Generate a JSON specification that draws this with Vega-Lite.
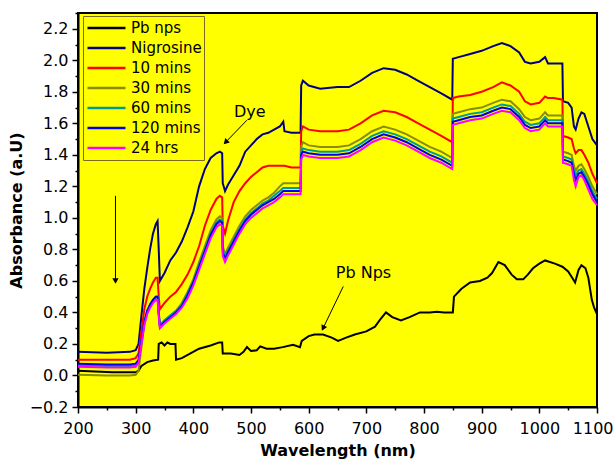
{
"$schema":"https://vega.github.io/schema/vega-lite/v6.json",
"width":519,"height":394,"autosize":"none",
"padding":{"left":78,"top":13,"right":18,"bottom":53},
"background":"white",
"config":{"view":{"fill":"#ffff00","stroke":"black","strokeWidth":2},
"font":"DejaVu Sans",
"axis":{"domainColor":"black","domainWidth":2,"tickColor":"black","tickWidth":1.5,"labelFont":"DejaVu Sans","labelFontSize":16,"labelColor":"black","titleFont":"DejaVu Sans","titleFontSize":16,"titleFontWeight":"bold","titleColor":"black","grid":false}},
"resolve":{"axis":{"x":"independent","y":"independent"}},
"datasets":{
"spectra":[
{"s":"Pb nps","w":200,"a":0.03},{"s":"Pb nps","w":230,"a":0.025},{"s":"Pb nps","w":260,"a":0.02},{"s":"Pb nps","w":300,"a":0.02},{"s":"Pb nps","w":305,"a":0.03},{"s":"Pb nps","w":310,"a":0.06},{"s":"Pb nps","w":320,"a":0.085},{"s":"Pb nps","w":330,"a":0.095},{"s":"Pb nps","w":339,"a":0.1},{"s":"Pb nps","w":340,"a":0.2},{"s":"Pb nps","w":345,"a":0.21},{"s":"Pb nps","w":350,"a":0.19},{"s":"Pb nps","w":355,"a":0.21},{"s":"Pb nps","w":360,"a":0.2},{"s":"Pb nps","w":365,"a":0.2},{"s":"Pb nps","w":369,"a":0.2},{"s":"Pb nps","w":370,"a":0.1},{"s":"Pb nps","w":380,"a":0.11},{"s":"Pb nps","w":395,"a":0.14},{"s":"Pb nps","w":410,"a":0.17},{"s":"Pb nps","w":430,"a":0.19},{"s":"Pb nps","w":445,"a":0.21},{"s":"Pb nps","w":450,"a":0.21},{"s":"Pb nps","w":451,"a":0.14},{"s":"Pb nps","w":465,"a":0.14},{"s":"Pb nps","w":480,"a":0.13},{"s":"Pb nps","w":487,"a":0.15},{"s":"Pb nps","w":493,"a":0.18},{"s":"Pb nps","w":500,"a":0.155},{"s":"Pb nps","w":510,"a":0.16},{"s":"Pb nps","w":516,"a":0.185},{"s":"Pb nps","w":527,"a":0.17},{"s":"Pb nps","w":540,"a":0.17},{"s":"Pb nps","w":555,"a":0.18},{"s":"Pb nps","w":573,"a":0.195},{"s":"Pb nps","w":585,"a":0.18},{"s":"Pb nps","w":588,"a":0.22},{"s":"Pb nps","w":600,"a":0.25},{"s":"Pb nps","w":610,"a":0.26},{"s":"Pb nps","w":625,"a":0.26},{"s":"Pb nps","w":640,"a":0.24},{"s":"Pb nps","w":651,"a":0.22},{"s":"Pb nps","w":665,"a":0.24},{"s":"Pb nps","w":680,"a":0.26},{"s":"Pb nps","w":700,"a":0.28},{"s":"Pb nps","w":715,"a":0.31},{"s":"Pb nps","w":725,"a":0.36},{"s":"Pb nps","w":734,"a":0.4},{"s":"Pb nps","w":745,"a":0.37},{"s":"Pb nps","w":760,"a":0.35},{"s":"Pb nps","w":775,"a":0.37},{"s":"Pb nps","w":793,"a":0.4},{"s":"Pb nps","w":810,"a":0.4},{"s":"Pb nps","w":822,"a":0.405},{"s":"Pb nps","w":835,"a":0.4},{"s":"Pb nps","w":850,"a":0.4},{"s":"Pb nps","w":852,"a":0.5},{"s":"Pb nps","w":865,"a":0.55},{"s":"Pb nps","w":880,"a":0.59},{"s":"Pb nps","w":897,"a":0.6},{"s":"Pb nps","w":910,"a":0.62},{"s":"Pb nps","w":918,"a":0.65},{"s":"Pb nps","w":929,"a":0.72},{"s":"Pb nps","w":940,"a":0.7},{"s":"Pb nps","w":952,"a":0.64},{"s":"Pb nps","w":961,"a":0.61},{"s":"Pb nps","w":972,"a":0.61},{"s":"Pb nps","w":980,"a":0.64},{"s":"Pb nps","w":989,"a":0.68},{"s":"Pb nps","w":1000,"a":0.71},{"s":"Pb nps","w":1010,"a":0.73},{"s":"Pb nps","w":1027,"a":0.71},{"s":"Pb nps","w":1040,"a":0.69},{"s":"Pb nps","w":1050,"a":0.66},{"s":"Pb nps","w":1057,"a":0.62},{"s":"Pb nps","w":1062,"a":0.59},{"s":"Pb nps","w":1068,"a":0.67},{"s":"Pb nps","w":1073,"a":0.7},{"s":"Pb nps","w":1080,"a":0.68},{"s":"Pb nps","w":1085,"a":0.62},{"s":"Pb nps","w":1091,"a":0.48},{"s":"Pb nps","w":1095,"a":0.43},{"s":"Pb nps","w":1100,"a":0.39},

{"s":"Nigrosine","w":200,"a":0.15},{"s":"Nigrosine","w":250,"a":0.145},{"s":"Nigrosine","w":290,"a":0.15},{"s":"Nigrosine","w":300,"a":0.16},{"s":"Nigrosine","w":305,"a":0.2},{"s":"Nigrosine","w":310,"a":0.38},{"s":"Nigrosine","w":315,"a":0.55},{"s":"Nigrosine","w":320,"a":0.68},{"s":"Nigrosine","w":325,"a":0.8},{"s":"Nigrosine","w":330,"a":0.9},{"s":"Nigrosine","w":335,"a":0.96},{"s":"Nigrosine","w":338,"a":0.98},{"s":"Nigrosine","w":340,"a":0.8},{"s":"Nigrosine","w":342,"a":0.6},{"s":"Nigrosine","w":350,"a":0.65},{"s":"Nigrosine","w":360,"a":0.73},{"s":"Nigrosine","w":370,"a":0.78},{"s":"Nigrosine","w":380,"a":0.85},{"s":"Nigrosine","w":390,"a":0.94},{"s":"Nigrosine","w":400,"a":1.04},{"s":"Nigrosine","w":410,"a":1.2},{"s":"Nigrosine","w":420,"a":1.31},{"s":"Nigrosine","w":430,"a":1.38},{"s":"Nigrosine","w":440,"a":1.41},{"s":"Nigrosine","w":446,"a":1.42},{"s":"Nigrosine","w":450,"a":1.41},{"s":"Nigrosine","w":451,"a":1.22},{"s":"Nigrosine","w":455,"a":1.17},{"s":"Nigrosine","w":460,"a":1.21},{"s":"Nigrosine","w":470,"a":1.27},{"s":"Nigrosine","w":480,"a":1.33},{"s":"Nigrosine","w":490,"a":1.42},{"s":"Nigrosine","w":500,"a":1.46},{"s":"Nigrosine","w":510,"a":1.5},{"s":"Nigrosine","w":520,"a":1.53},{"s":"Nigrosine","w":530,"a":1.54},{"s":"Nigrosine","w":540,"a":1.56},{"s":"Nigrosine","w":550,"a":1.58},{"s":"Nigrosine","w":556,"a":1.61},{"s":"Nigrosine","w":558,"a":1.55},{"s":"Nigrosine","w":570,"a":1.54},{"s":"Nigrosine","w":586,"a":1.54},{"s":"Nigrosine","w":587,"a":1.84},{"s":"Nigrosine","w":590,"a":1.87},{"s":"Nigrosine","w":600,"a":1.84},{"s":"Nigrosine","w":620,"a":1.82},{"s":"Nigrosine","w":650,"a":1.83},{"s":"Nigrosine","w":670,"a":1.83},{"s":"Nigrosine","w":690,"a":1.87},{"s":"Nigrosine","w":710,"a":1.92},{"s":"Nigrosine","w":730,"a":1.95},{"s":"Nigrosine","w":750,"a":1.94},{"s":"Nigrosine","w":770,"a":1.91},{"s":"Nigrosine","w":790,"a":1.87},{"s":"Nigrosine","w":810,"a":1.83},{"s":"Nigrosine","w":830,"a":1.79},{"s":"Nigrosine","w":849,"a":1.75},{"s":"Nigrosine","w":850,"a":2.01},{"s":"Nigrosine","w":860,"a":2.02},{"s":"Nigrosine","w":880,"a":2.04},{"s":"Nigrosine","w":900,"a":2.06},{"s":"Nigrosine","w":920,"a":2.09},{"s":"Nigrosine","w":935,"a":2.11},{"s":"Nigrosine","w":950,"a":2.09},{"s":"Nigrosine","w":965,"a":2.05},{"s":"Nigrosine","w":975,"a":1.99},{"s":"Nigrosine","w":985,"a":1.98},{"s":"Nigrosine","w":1000,"a":1.99},{"s":"Nigrosine","w":1010,"a":2.02},{"s":"Nigrosine","w":1015,"a":1.98},{"s":"Nigrosine","w":1025,"a":1.98},{"s":"Nigrosine","w":1040,"a":1.98},{"s":"Nigrosine","w":1041,"a":1.74},{"s":"Nigrosine","w":1050,"a":1.73},{"s":"Nigrosine","w":1056,"a":1.7},{"s":"Nigrosine","w":1060,"a":1.58},{"s":"Nigrosine","w":1063,"a":1.56},{"s":"Nigrosine","w":1068,"a":1.63},{"s":"Nigrosine","w":1073,"a":1.67},{"s":"Nigrosine","w":1078,"a":1.66},{"s":"Nigrosine","w":1085,"a":1.58},{"s":"Nigrosine","w":1092,"a":1.5},{"s":"Nigrosine","w":1100,"a":1.46},

{"s":"10 mins","w":200,"a":0.1},{"s":"10 mins","w":250,"a":0.1},{"s":"10 mins","w":290,"a":0.1},{"s":"10 mins","w":300,"a":0.11},{"s":"10 mins","w":305,"a":0.14},{"s":"10 mins","w":310,"a":0.28},{"s":"10 mins","w":315,"a":0.42},{"s":"10 mins","w":320,"a":0.5},{"s":"10 mins","w":325,"a":0.55},{"s":"10 mins","w":330,"a":0.59},{"s":"10 mins","w":335,"a":0.62},{"s":"10 mins","w":338,"a":0.62},{"s":"10 mins","w":340,"a":0.5},{"s":"10 mins","w":342,"a":0.42},{"s":"10 mins","w":350,"a":0.46},{"s":"10 mins","w":360,"a":0.5},{"s":"10 mins","w":370,"a":0.53},{"s":"10 mins","w":380,"a":0.58},{"s":"10 mins","w":390,"a":0.64},{"s":"10 mins","w":400,"a":0.72},{"s":"10 mins","w":410,"a":0.82},{"s":"10 mins","w":420,"a":0.95},{"s":"10 mins","w":430,"a":1.05},{"s":"10 mins","w":440,"a":1.12},{"s":"10 mins","w":446,"a":1.14},{"s":"10 mins","w":450,"a":1.13},{"s":"10 mins","w":451,"a":0.95},{"s":"10 mins","w":455,"a":0.9},{"s":"10 mins","w":460,"a":0.98},{"s":"10 mins","w":470,"a":1.1},{"s":"10 mins","w":480,"a":1.17},{"s":"10 mins","w":490,"a":1.22},{"s":"10 mins","w":500,"a":1.26},{"s":"10 mins","w":510,"a":1.29},{"s":"10 mins","w":520,"a":1.32},{"s":"10 mins","w":530,"a":1.33},{"s":"10 mins","w":540,"a":1.33},{"s":"10 mins","w":550,"a":1.33},{"s":"10 mins","w":556,"a":1.33},{"s":"10 mins","w":558,"a":1.33},{"s":"10 mins","w":570,"a":1.32},{"s":"10 mins","w":586,"a":1.32},{"s":"10 mins","w":587,"a":1.55},{"s":"10 mins","w":590,"a":1.58},{"s":"10 mins","w":600,"a":1.56},{"s":"10 mins","w":620,"a":1.55},{"s":"10 mins","w":650,"a":1.55},{"s":"10 mins","w":670,"a":1.56},{"s":"10 mins","w":690,"a":1.6},{"s":"10 mins","w":710,"a":1.65},{"s":"10 mins","w":730,"a":1.68},{"s":"10 mins","w":750,"a":1.67},{"s":"10 mins","w":770,"a":1.64},{"s":"10 mins","w":790,"a":1.6},{"s":"10 mins","w":810,"a":1.56},{"s":"10 mins","w":830,"a":1.52},{"s":"10 mins","w":849,"a":1.48},{"s":"10 mins","w":850,"a":1.76},{"s":"10 mins","w":860,"a":1.77},{"s":"10 mins","w":880,"a":1.78},{"s":"10 mins","w":900,"a":1.8},{"s":"10 mins","w":920,"a":1.83},{"s":"10 mins","w":935,"a":1.86},{"s":"10 mins","w":950,"a":1.84},{"s":"10 mins","w":965,"a":1.8},{"s":"10 mins","w":975,"a":1.74},{"s":"10 mins","w":985,"a":1.72},{"s":"10 mins","w":1000,"a":1.73},{"s":"10 mins","w":1010,"a":1.77},{"s":"10 mins","w":1015,"a":1.76},{"s":"10 mins","w":1025,"a":1.76},{"s":"10 mins","w":1040,"a":1.75},{"s":"10 mins","w":1041,"a":1.52},{"s":"10 mins","w":1050,"a":1.51},{"s":"10 mins","w":1056,"a":1.5},{"s":"10 mins","w":1060,"a":1.44},{"s":"10 mins","w":1063,"a":1.41},{"s":"10 mins","w":1068,"a":1.43},{"s":"10 mins","w":1073,"a":1.43},{"s":"10 mins","w":1078,"a":1.4},{"s":"10 mins","w":1085,"a":1.35},{"s":"10 mins","w":1092,"a":1.28},{"s":"10 mins","w":1100,"a":1.22},

{"s":"30 mins","w":200,"a":0.005},{"s":"30 mins","w":250,"a":0.0},{"s":"30 mins","w":290,"a":0.0},{"s":"30 mins","w":300,"a":0.005},{"s":"30 mins","w":305,"a":0.03},{"s":"30 mins","w":310,"a":0.18},{"s":"30 mins","w":315,"a":0.32},{"s":"30 mins","w":320,"a":0.4},{"s":"30 mins","w":325,"a":0.44},{"s":"30 mins","w":330,"a":0.47},{"s":"30 mins","w":335,"a":0.5},{"s":"30 mins","w":338,"a":0.5},{"s":"30 mins","w":340,"a":0.4},{"s":"30 mins","w":342,"a":0.31},{"s":"30 mins","w":350,"a":0.35},{"s":"30 mins","w":360,"a":0.38},{"s":"30 mins","w":370,"a":0.41},{"s":"30 mins","w":380,"a":0.46},{"s":"30 mins","w":390,"a":0.53},{"s":"30 mins","w":400,"a":0.61},{"s":"30 mins","w":410,"a":0.72},{"s":"30 mins","w":420,"a":0.82},{"s":"30 mins","w":430,"a":0.92},{"s":"30 mins","w":440,"a":0.99},{"s":"30 mins","w":446,"a":1.01},{"s":"30 mins","w":450,"a":1.0},{"s":"30 mins","w":451,"a":0.82},{"s":"30 mins","w":455,"a":0.77},{"s":"30 mins","w":460,"a":0.81},{"s":"30 mins","w":470,"a":0.88},{"s":"30 mins","w":480,"a":0.95},{"s":"30 mins","w":490,"a":1.01},{"s":"30 mins","w":500,"a":1.05},{"s":"30 mins","w":510,"a":1.08},{"s":"30 mins","w":520,"a":1.11},{"s":"30 mins","w":530,"a":1.13},{"s":"30 mins","w":540,"a":1.16},{"s":"30 mins","w":550,"a":1.2},{"s":"30 mins","w":556,"a":1.22},{"s":"30 mins","w":558,"a":1.22},{"s":"30 mins","w":570,"a":1.22},{"s":"30 mins","w":586,"a":1.22},{"s":"30 mins","w":587,"a":1.45},{"s":"30 mins","w":590,"a":1.48},{"s":"30 mins","w":600,"a":1.46},{"s":"30 mins","w":620,"a":1.45},{"s":"30 mins","w":650,"a":1.45},{"s":"30 mins","w":670,"a":1.46},{"s":"30 mins","w":690,"a":1.5},{"s":"30 mins","w":710,"a":1.55},{"s":"30 mins","w":730,"a":1.58},{"s":"30 mins","w":750,"a":1.56},{"s":"30 mins","w":770,"a":1.53},{"s":"30 mins","w":790,"a":1.49},{"s":"30 mins","w":810,"a":1.45},{"s":"30 mins","w":830,"a":1.42},{"s":"30 mins","w":849,"a":1.38},{"s":"30 mins","w":850,"a":1.66},{"s":"30 mins","w":860,"a":1.67},{"s":"30 mins","w":880,"a":1.69},{"s":"30 mins","w":900,"a":1.7},{"s":"30 mins","w":920,"a":1.73},{"s":"30 mins","w":935,"a":1.75},{"s":"30 mins","w":950,"a":1.74},{"s":"30 mins","w":965,"a":1.69},{"s":"30 mins","w":975,"a":1.64},{"s":"30 mins","w":985,"a":1.62},{"s":"30 mins","w":1000,"a":1.63},{"s":"30 mins","w":1010,"a":1.67},{"s":"30 mins","w":1015,"a":1.65},{"s":"30 mins","w":1025,"a":1.65},{"s":"30 mins","w":1040,"a":1.65},{"s":"30 mins","w":1041,"a":1.42},{"s":"30 mins","w":1050,"a":1.41},{"s":"30 mins","w":1056,"a":1.4},{"s":"30 mins","w":1060,"a":1.33},{"s":"30 mins","w":1063,"a":1.3},{"s":"30 mins","w":1068,"a":1.33},{"s":"30 mins","w":1073,"a":1.34},{"s":"30 mins","w":1078,"a":1.31},{"s":"30 mins","w":1085,"a":1.26},{"s":"30 mins","w":1092,"a":1.2},{"s":"30 mins","w":1100,"a":1.15},

{"s":"60 mins","w":200,"a":0.065},{"s":"60 mins","w":250,"a":0.06},{"s":"60 mins","w":290,"a":0.06},{"s":"60 mins","w":300,"a":0.065},{"s":"60 mins","w":305,"a":0.09},{"s":"60 mins","w":310,"a":0.22},{"s":"60 mins","w":315,"a":0.34},{"s":"60 mins","w":320,"a":0.41},{"s":"60 mins","w":325,"a":0.45},{"s":"60 mins","w":330,"a":0.48},{"s":"60 mins","w":335,"a":0.5},{"s":"60 mins","w":338,"a":0.5},{"s":"60 mins","w":340,"a":0.4},{"s":"60 mins","w":342,"a":0.32},{"s":"60 mins","w":350,"a":0.35},{"s":"60 mins","w":360,"a":0.38},{"s":"60 mins","w":370,"a":0.41},{"s":"60 mins","w":380,"a":0.45},{"s":"60 mins","w":390,"a":0.52},{"s":"60 mins","w":400,"a":0.6},{"s":"60 mins","w":410,"a":0.7},{"s":"60 mins","w":420,"a":0.8},{"s":"60 mins","w":430,"a":0.9},{"s":"60 mins","w":440,"a":0.97},{"s":"60 mins","w":446,"a":0.99},{"s":"60 mins","w":450,"a":0.98},{"s":"60 mins","w":451,"a":0.8},{"s":"60 mins","w":455,"a":0.75},{"s":"60 mins","w":460,"a":0.79},{"s":"60 mins","w":470,"a":0.86},{"s":"60 mins","w":480,"a":0.93},{"s":"60 mins","w":490,"a":0.99},{"s":"60 mins","w":500,"a":1.03},{"s":"60 mins","w":510,"a":1.06},{"s":"60 mins","w":520,"a":1.09},{"s":"60 mins","w":530,"a":1.11},{"s":"60 mins","w":540,"a":1.14},{"s":"60 mins","w":550,"a":1.17},{"s":"60 mins","w":556,"a":1.19},{"s":"60 mins","w":558,"a":1.19},{"s":"60 mins","w":570,"a":1.19},{"s":"60 mins","w":586,"a":1.19},{"s":"60 mins","w":587,"a":1.42},{"s":"60 mins","w":590,"a":1.44},{"s":"60 mins","w":600,"a":1.43},{"s":"60 mins","w":620,"a":1.42},{"s":"60 mins","w":650,"a":1.42},{"s":"60 mins","w":670,"a":1.43},{"s":"60 mins","w":690,"a":1.47},{"s":"60 mins","w":710,"a":1.52},{"s":"60 mins","w":730,"a":1.55},{"s":"60 mins","w":750,"a":1.53},{"s":"60 mins","w":770,"a":1.5},{"s":"60 mins","w":790,"a":1.46},{"s":"60 mins","w":810,"a":1.42},{"s":"60 mins","w":830,"a":1.39},{"s":"60 mins","w":849,"a":1.35},{"s":"60 mins","w":850,"a":1.63},{"s":"60 mins","w":860,"a":1.64},{"s":"60 mins","w":880,"a":1.66},{"s":"60 mins","w":900,"a":1.67},{"s":"60 mins","w":920,"a":1.7},{"s":"60 mins","w":935,"a":1.72},{"s":"60 mins","w":950,"a":1.71},{"s":"60 mins","w":965,"a":1.66},{"s":"60 mins","w":975,"a":1.61},{"s":"60 mins","w":985,"a":1.59},{"s":"60 mins","w":1000,"a":1.6},{"s":"60 mins","w":1010,"a":1.64},{"s":"60 mins","w":1015,"a":1.62},{"s":"60 mins","w":1025,"a":1.62},{"s":"60 mins","w":1040,"a":1.62},{"s":"60 mins","w":1041,"a":1.39},{"s":"60 mins","w":1050,"a":1.38},{"s":"60 mins","w":1056,"a":1.37},{"s":"60 mins","w":1060,"a":1.3},{"s":"60 mins","w":1063,"a":1.27},{"s":"60 mins","w":1068,"a":1.3},{"s":"60 mins","w":1073,"a":1.31},{"s":"60 mins","w":1078,"a":1.28},{"s":"60 mins","w":1085,"a":1.23},{"s":"60 mins","w":1092,"a":1.17},{"s":"60 mins","w":1100,"a":1.12},

{"s":"120 mins","w":200,"a":0.075},{"s":"120 mins","w":250,"a":0.07},{"s":"120 mins","w":290,"a":0.07},{"s":"120 mins","w":300,"a":0.075},{"s":"120 mins","w":305,"a":0.1},{"s":"120 mins","w":310,"a":0.22},{"s":"120 mins","w":315,"a":0.34},{"s":"120 mins","w":320,"a":0.41},{"s":"120 mins","w":325,"a":0.45},{"s":"120 mins","w":330,"a":0.48},{"s":"120 mins","w":335,"a":0.5},{"s":"120 mins","w":338,"a":0.5},{"s":"120 mins","w":340,"a":0.39},{"s":"120 mins","w":342,"a":0.31},{"s":"120 mins","w":350,"a":0.34},{"s":"120 mins","w":360,"a":0.37},{"s":"120 mins","w":370,"a":0.4},{"s":"120 mins","w":380,"a":0.44},{"s":"120 mins","w":390,"a":0.51},{"s":"120 mins","w":400,"a":0.59},{"s":"120 mins","w":410,"a":0.69},{"s":"120 mins","w":420,"a":0.79},{"s":"120 mins","w":430,"a":0.89},{"s":"120 mins","w":440,"a":0.96},{"s":"120 mins","w":446,"a":0.98},{"s":"120 mins","w":450,"a":0.97},{"s":"120 mins","w":451,"a":0.78},{"s":"120 mins","w":455,"a":0.74},{"s":"120 mins","w":460,"a":0.78},{"s":"120 mins","w":470,"a":0.85},{"s":"120 mins","w":480,"a":0.92},{"s":"120 mins","w":490,"a":0.98},{"s":"120 mins","w":500,"a":1.02},{"s":"120 mins","w":510,"a":1.05},{"s":"120 mins","w":520,"a":1.08},{"s":"120 mins","w":530,"a":1.1},{"s":"120 mins","w":540,"a":1.12},{"s":"120 mins","w":550,"a":1.15},{"s":"120 mins","w":556,"a":1.17},{"s":"120 mins","w":558,"a":1.17},{"s":"120 mins","w":570,"a":1.17},{"s":"120 mins","w":586,"a":1.17},{"s":"120 mins","w":587,"a":1.4},{"s":"120 mins","w":590,"a":1.42},{"s":"120 mins","w":600,"a":1.41},{"s":"120 mins","w":620,"a":1.4},{"s":"120 mins","w":650,"a":1.4},{"s":"120 mins","w":670,"a":1.41},{"s":"120 mins","w":690,"a":1.45},{"s":"120 mins","w":710,"a":1.5},{"s":"120 mins","w":730,"a":1.53},{"s":"120 mins","w":750,"a":1.51},{"s":"120 mins","w":770,"a":1.48},{"s":"120 mins","w":790,"a":1.44},{"s":"120 mins","w":810,"a":1.4},{"s":"120 mins","w":830,"a":1.37},{"s":"120 mins","w":849,"a":1.33},{"s":"120 mins","w":850,"a":1.61},{"s":"120 mins","w":860,"a":1.62},{"s":"120 mins","w":880,"a":1.64},{"s":"120 mins","w":900,"a":1.65},{"s":"120 mins","w":920,"a":1.68},{"s":"120 mins","w":935,"a":1.7},{"s":"120 mins","w":950,"a":1.69},{"s":"120 mins","w":965,"a":1.64},{"s":"120 mins","w":975,"a":1.59},{"s":"120 mins","w":985,"a":1.57},{"s":"120 mins","w":1000,"a":1.58},{"s":"120 mins","w":1010,"a":1.62},{"s":"120 mins","w":1015,"a":1.6},{"s":"120 mins","w":1025,"a":1.6},{"s":"120 mins","w":1040,"a":1.6},{"s":"120 mins","w":1041,"a":1.37},{"s":"120 mins","w":1050,"a":1.36},{"s":"120 mins","w":1056,"a":1.35},{"s":"120 mins","w":1060,"a":1.28},{"s":"120 mins","w":1063,"a":1.24},{"s":"120 mins","w":1068,"a":1.28},{"s":"120 mins","w":1073,"a":1.29},{"s":"120 mins","w":1078,"a":1.26},{"s":"120 mins","w":1085,"a":1.21},{"s":"120 mins","w":1092,"a":1.15},{"s":"120 mins","w":1100,"a":1.1},

{"s":"24 hrs","w":200,"a":0.055},{"s":"24 hrs","w":250,"a":0.05},{"s":"24 hrs","w":290,"a":0.05},{"s":"24 hrs","w":300,"a":0.055},{"s":"24 hrs","w":305,"a":0.08},{"s":"24 hrs","w":310,"a":0.2},{"s":"24 hrs","w":315,"a":0.32},{"s":"24 hrs","w":320,"a":0.39},{"s":"24 hrs","w":325,"a":0.43},{"s":"24 hrs","w":330,"a":0.46},{"s":"24 hrs","w":335,"a":0.48},{"s":"24 hrs","w":338,"a":0.48},{"s":"24 hrs","w":340,"a":0.38},{"s":"24 hrs","w":342,"a":0.3},{"s":"24 hrs","w":350,"a":0.33},{"s":"24 hrs","w":360,"a":0.36},{"s":"24 hrs","w":370,"a":0.39},{"s":"24 hrs","w":380,"a":0.43},{"s":"24 hrs","w":390,"a":0.49},{"s":"24 hrs","w":400,"a":0.57},{"s":"24 hrs","w":410,"a":0.67},{"s":"24 hrs","w":420,"a":0.77},{"s":"24 hrs","w":430,"a":0.87},{"s":"24 hrs","w":440,"a":0.94},{"s":"24 hrs","w":446,"a":0.96},{"s":"24 hrs","w":450,"a":0.95},{"s":"24 hrs","w":451,"a":0.76},{"s":"24 hrs","w":455,"a":0.72},{"s":"24 hrs","w":460,"a":0.76},{"s":"24 hrs","w":470,"a":0.83},{"s":"24 hrs","w":480,"a":0.9},{"s":"24 hrs","w":490,"a":0.96},{"s":"24 hrs","w":500,"a":1.0},{"s":"24 hrs","w":510,"a":1.03},{"s":"24 hrs","w":520,"a":1.06},{"s":"24 hrs","w":530,"a":1.08},{"s":"24 hrs","w":540,"a":1.1},{"s":"24 hrs","w":550,"a":1.13},{"s":"24 hrs","w":556,"a":1.15},{"s":"24 hrs","w":558,"a":1.15},{"s":"24 hrs","w":570,"a":1.15},{"s":"24 hrs","w":586,"a":1.15},{"s":"24 hrs","w":587,"a":1.37},{"s":"24 hrs","w":590,"a":1.4},{"s":"24 hrs","w":600,"a":1.39},{"s":"24 hrs","w":620,"a":1.38},{"s":"24 hrs","w":650,"a":1.38},{"s":"24 hrs","w":670,"a":1.39},{"s":"24 hrs","w":690,"a":1.43},{"s":"24 hrs","w":710,"a":1.48},{"s":"24 hrs","w":730,"a":1.51},{"s":"24 hrs","w":750,"a":1.49},{"s":"24 hrs","w":770,"a":1.46},{"s":"24 hrs","w":790,"a":1.42},{"s":"24 hrs","w":810,"a":1.38},{"s":"24 hrs","w":830,"a":1.35},{"s":"24 hrs","w":849,"a":1.31},{"s":"24 hrs","w":850,"a":1.59},{"s":"24 hrs","w":860,"a":1.6},{"s":"24 hrs","w":880,"a":1.62},{"s":"24 hrs","w":900,"a":1.63},{"s":"24 hrs","w":920,"a":1.66},{"s":"24 hrs","w":935,"a":1.68},{"s":"24 hrs","w":950,"a":1.67},{"s":"24 hrs","w":965,"a":1.62},{"s":"24 hrs","w":975,"a":1.57},{"s":"24 hrs","w":985,"a":1.55},{"s":"24 hrs","w":1000,"a":1.56},{"s":"24 hrs","w":1010,"a":1.6},{"s":"24 hrs","w":1015,"a":1.58},{"s":"24 hrs","w":1025,"a":1.58},{"s":"24 hrs","w":1040,"a":1.58},{"s":"24 hrs","w":1041,"a":1.35},{"s":"24 hrs","w":1050,"a":1.34},{"s":"24 hrs","w":1056,"a":1.33},{"s":"24 hrs","w":1060,"a":1.24},{"s":"24 hrs","w":1063,"a":1.2},{"s":"24 hrs","w":1068,"a":1.26},{"s":"24 hrs","w":1073,"a":1.27},{"s":"24 hrs","w":1078,"a":1.24},{"s":"24 hrs","w":1085,"a":1.18},{"s":"24 hrs","w":1092,"a":1.12},{"s":"24 hrs","w":1100,"a":1.08}
],
"notes":[{"label":"Dye","w":498,"a":1.67},{"label":"Pb Nps","w":695,"a":0.65}],
"arrows":[{"id":"dye","w1":493,"a1":1.62,"w2":456,"a2":1.48},{"id":"pb","w1":660,"a1":0.565,"w2":625,"a2":0.3},{"id":"down","w1":265,"a1":1.14,"w2":265,"a2":0.6}]
},
"layer":[
{"data":{"name":"spectra"},
"mark":{"type":"line","strokeWidth":2,"interpolate":"linear"},
"encoding":{
"x":{"field":"w","type":"quantitative","title":"Wavelength (nm)","scale":{"domain":[200,1100],"nice":false,"zero":false},
"axis":{"orient":"bottom","values":[200,300,400,500,600,700,800,900,1000,1100],"format":"d","tickSize":6,"labelPadding":7,"titlePadding":6,"labelFlush":false,"labelOverlap":false,
"labelAlign":{"condition":{"test":"datum.value === 1100","value":"right"},"value":"center"},
"labelOffset":{"condition":{"test":"datum.value === 1100","value":16},"value":0}}},
"y":{"field":"a","type":"quantitative","title":"Absorbance (a.U)","scale":{"domain":[-0.2,2.3],"nice":false,"zero":false},
"axis":{"orient":"left","values":[-0.2,0,0.2,0.4,0.6,0.8,1.0,1.2,1.4,1.6,1.8,2.0,2.2],"format":".1f","tickSize":6,"labelPadding":4,"titlePadding":5,"labelFlush":false,"labelOverlap":false}},
"color":{"field":"s","type":"nominal","scale":{"domain":["Pb nps","Nigrosine","10 mins","30 mins","60 mins","120 mins","24 hrs"],"range":["#000000","#000080","#ff0000","#8b8b00","#009a9a","#0000ee","#ff00ff"]},
"legend":{"orient":"none","legendX":5,"legendY":3,"title":null,"symbolType":"stroke","symbolSize":1444,"symbolStrokeWidth":2.5,"labelFontSize":15,"labelFont":"DejaVu Sans","labelColor":"black","clipHeight":20,"rowPadding":0,"padding":2,"symbolOffset":1,"labelOffset":4,"strokeColor":"#7a6a20","fillColor":"#ffff00"}}
}},
{"data":{"name":"arrows"},
"mark":{"type":"rule","color":"black","strokeWidth":1},
"encoding":{"x":{"field":"w1","type":"quantitative","axis":{"orient":"bottom","values":[250,350,450,550,650,750,850,950,1050],"labels":false,"domain":false,"tickSize":3,"title":null}},
"y":{"field":"a1","type":"quantitative","axis":{"orient":"left","values":[-0.1,0.1,0.3,0.5,0.7,0.9,1.1,1.3,1.5,1.7,1.9,2.1,2.3],"labels":false,"domain":false,"tickSize":3,"title":null}},
"x2":{"field":"w2"},"y2":{"field":"a2"}}},
{"data":{"name":"arrows"},
"mark":{"type":"point","shape":"triangle-up","filled":true,"color":"black","size":40,"opacity":1},
"encoding":{"x":{"field":"w2","type":"quantitative","axis":null},"y":{"field":"a2","type":"quantitative","axis":null},
"angle":{"condition":[{"test":"datum.id==='dye'","value":224},{"test":"datum.id==='pb'","value":206}],"value":180}}},
{"data":{"name":"notes"},
"mark":{"type":"text","fontSize":16,"font":"DejaVu Sans","color":"black"},
"encoding":{"x":{"field":"w","type":"quantitative","axis":null},"y":{"field":"a","type":"quantitative","axis":null},"text":{"field":"label"}}}
]
}
